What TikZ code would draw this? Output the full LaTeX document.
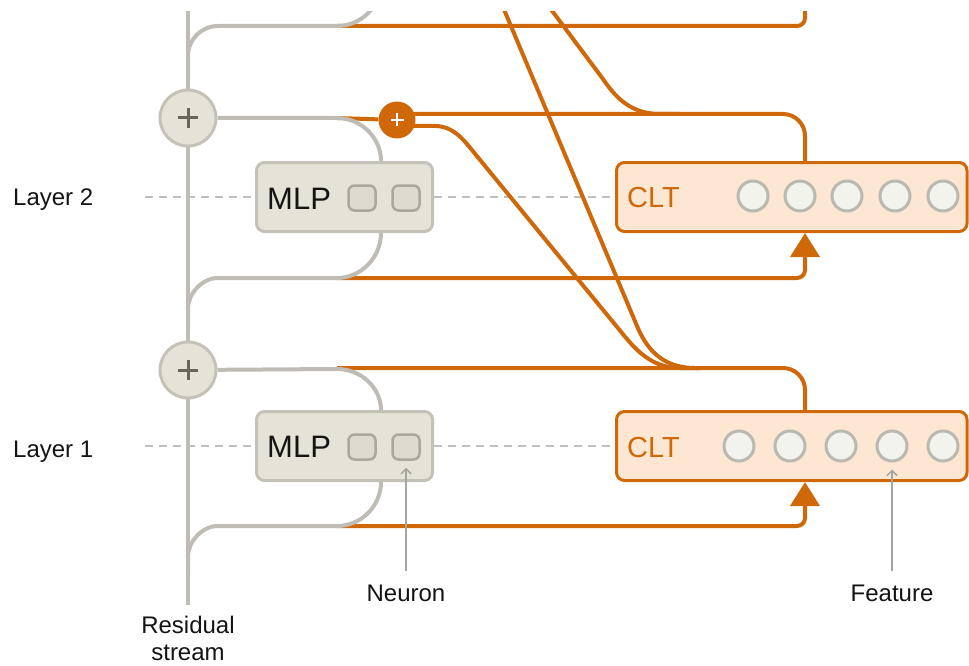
\documentclass[tikz,border=0pt]{standalone}
\usepackage{fontspec}
\setmainfont{Liberation Sans}
\usetikzlibrary{arrows.meta,calc}
\pgfdeclarelayer{wires}
\pgfsetlayers{wires,main}

\definecolor{clto}{RGB}{206,104,8}
\definecolor{cltfill}{RGB}{253,231,210}
\definecolor{resg}{RGB}{190,188,180}
\definecolor{mlpfill}{RGB}{229,227,216}
\definecolor{mlpedge}{RGB}{196,194,184}
\definecolor{sqfill}{RGB}{221,219,208}
\definecolor{sqedge}{RGB}{170,168,156}
\definecolor{plusink}{RGB}{104,102,90}
\definecolor{featfill}{RGB}{243,243,238}
\definecolor{featedge}{RGB}{186,185,177}
\definecolor{dashg}{RGB}{192,192,192}
\definecolor{pointg}{RGB}{165,165,160}
\definecolor{ink}{RGB}{20,20,20}

\begin{document}
\begin{tikzpicture}[x=1pt,y=-1pt,
  resline/.style={draw=resg,line width=4pt},
  oline/.style={draw=clto,line width=4pt},
  dashline/.style={draw=dashg,line width=2pt,dash pattern=on 8pt off 6pt},
  mlpbox/.style={draw=mlpedge,fill=mlpfill,line width=3pt,rounded corners=8pt,
    minimum width=176pt,minimum height=69pt,inner sep=0pt},
  cltbox/.style={draw=clto,fill=cltfill,line width=3pt,rounded corners=8pt,
    minimum width=350.5pt,minimum height=69pt,inner sep=0pt},
  neuronsq/.style={draw=sqedge,fill=sqfill,line width=2.5pt,rounded corners=6pt,
    minimum width=27pt,minimum height=25pt,inner sep=0pt},
  featdot/.style={circle,draw=featedge,fill=featfill,line width=3pt,
    minimum size=30pt,inner sep=0pt},
  sumnode/.style={circle,draw=mlpedge,fill=mlpfill,line width=3pt,
    minimum size=56pt,inner sep=0pt},
  osum/.style={circle,fill=clto,minimum size=37pt,inner sep=0pt},
  plusmark/.style={draw=plusink,line width=3pt},
  oplusmark/.style={draw=white,line width=2.5pt},
  lbl/.style={font=\fontsize{24pt}{28pt}\selectfont,text=ink,inner sep=0pt},
  pointer/.style={draw=pointg,line width=1.5pt,-{Straight Barb[length=5pt,width=10pt]}},
  inarrow/.style={oline,rounded corners=8pt,-{Triangle[width=29pt,length=24pt]}},
]
\useasboundingbox (0,0) rectangle (969,666);

% tap columns
\coordinate (cx) at (805,0);   % CLT read/write column
\coordinate (mx) at (381,0);   % MLP read/write column
\coordinate (resbot) at (188,605);
\coordinate (d2) at (145,197);
\coordinate (d1) at (145,446);

% ---------- blocks ----------
\node[mlpbox] (mlp2) at (344.5,197) {};
\node[mlpbox] (mlp1) at (344.5,446) {};
\node[lbl,font=\fontsize{31pt}{36pt}\selectfont,anchor=base west] (mlp2t) at (267,209) {MLP};
\node[lbl,font=\fontsize{31pt}{36pt}\selectfont,anchor=base west] (mlp1t) at (267,457) {MLP};
\node[neuronsq] (sq2a) at (362,198) {};
\node[neuronsq] (sq2b) at (406,198) {};
\node[neuronsq] (sq1a) at (362,447) {};
\node[neuronsq] (sq1b) at (406,447) {};

\node[cltbox] (clt2) at (791.75,197) {};
\node[cltbox] (clt1) at (791.75,446) {};
\node[lbl,text=clto,font=\fontsize{29pt}{34pt}\selectfont,anchor=base west] (clt2t) at (627,207) {CLT};
\node[lbl,text=clto,font=\fontsize{29pt}{34pt}\selectfont,anchor=base west] (clt1t) at (627,457) {CLT};
\foreach \i/\x in {1/753,2/800,3/847,4/895,5/943}
  \node[featdot] (f2\i) at (\x,196) {};
\foreach \i/\x in {1/739,2/790,3/841,4/892,5/943}
  \node[featdot] (f1\i) at (\x,446) {};

% residual-stream adders
\node[sumnode] (plus2) at (188,118) {};
\node[sumnode] (plus1) at (188,370) {};
\foreach \p in {plus2,plus1}{
  \draw[plusmark] ([xshift=-10pt]\p.center) -- ([xshift=10pt]\p.center);
  \draw[plusmark] ([yshift=-10pt]\p.center) -- ([yshift=10pt]\p.center);
}
% sum of CLT outputs into layer 2
\node[osum] (oplus) at (397,120) {};
\draw[oplusmark] ([xshift=-6.5pt]oplus.center) -- ([xshift=6.5pt]oplus.center);
\draw[oplusmark] ([yshift=-6.5pt]oplus.center) -- ([yshift=6.5pt]oplus.center);

% ---------- labels ----------
\node[lbl,anchor=base west] (lay2) at (13,205) {Layer 2};
\node[lbl,anchor=base west] (lay1) at (13,457) {Layer 1};
\node[lbl,anchor=base] (neuron) at (406,601) {Neuron};
\node[lbl,anchor=base] (feature) at (892,601) {Feature};
\node[lbl,anchor=base] (res1) at (188,633) {Residual};
\node[lbl,anchor=base] (res2) at (188,660) {stream};
\draw[pointer] ([yshift=13pt]neuron.north) -- ([yshift=-7pt]sq1b.south);
\draw[pointer] ([yshift=13pt]feature.north) -- ([yshift=-7pt]f14.south);

% ---------- wiring ----------
\begin{pgfonlayer}{wires}
\begin{scope}
\clip (0,12) rectangle (969,666);

% layer guides
\draw[dashline] (d2) -- (mlp2.west);
\draw[dashline] (mlp2.east) -- (clt2.west);
\draw[dashline] (d1) -- (mlp1.west);
\draw[dashline] (mlp1.east) -- (clt1.west);

% CLT inputs read from the residual stream
\draw[oline,rounded corners=8pt] (337,26) -- (805,26) -- (805,0);
\draw[inarrow] (337,278) -- (805,278) -- (clt2.south -| cx);
\draw[inarrow] (337,526) -- (805,526) -- (clt1.south -| cx);

% CLT outputs
\draw[oline] (337,118) -- (oplus);
\draw[oline,rounded corners=22pt] (clt2.north -| cx) -- (805,114) -- ([yshift=6pt]oplus.center);
\draw[oline] (680,114) -- (660,114) .. controls (625,114) and (611,90) .. (600,75) -- (544,0);
\draw[oline,rounded corners=22pt] (clt1.north -| cx) -- (805,368) -- (337,368);
\draw[oline] (700,368) -- (680,368) .. controls (650,368) and (633.5,347) .. (622,333)
  -- (476,155) .. controls (466,143) and (455,126) .. (435,126) -- ([yshift=-6pt]oplus.center);
\draw[oline] (700,368) -- (695,368) .. controls (660,368) and (645.4,346) .. (637,326) -- (500,0);

% residual stream and its branches
\draw[resline] (188,0) -- (resbot);
\draw[resline] (188,80) -- (188,56) .. controls (188,39.4) and (201.4,26) .. (218,26)
  -- (337,26) .. controls (361.3,26) and (381,6.3) .. (381,-18);
\draw[resline] (plus2) -- (337,118) .. controls (361.3,118) and (381,137.9) .. (mlp2.north -| mx);
\draw[resline] (mlp2.south -| mx) .. controls (381,257.2) and (361.3,278) .. (337,278)
  -- (218,278) .. controls (201.4,278) and (188,294.6) .. (188,308) -- (188,330);
\draw[resline] (plus1) -- (337,369) .. controls (361.3,369) and (381,388) .. (mlp1.north -| mx);
\draw[resline] (mlp1.south -| mx) .. controls (381,506) and (361.3,526) .. (337,526)
  -- (218,526) .. controls (201.4,526) and (188,542.6) .. (188,556) -- (188,575);
\end{scope}
\end{pgfonlayer}
\end{tikzpicture}
\end{document}
